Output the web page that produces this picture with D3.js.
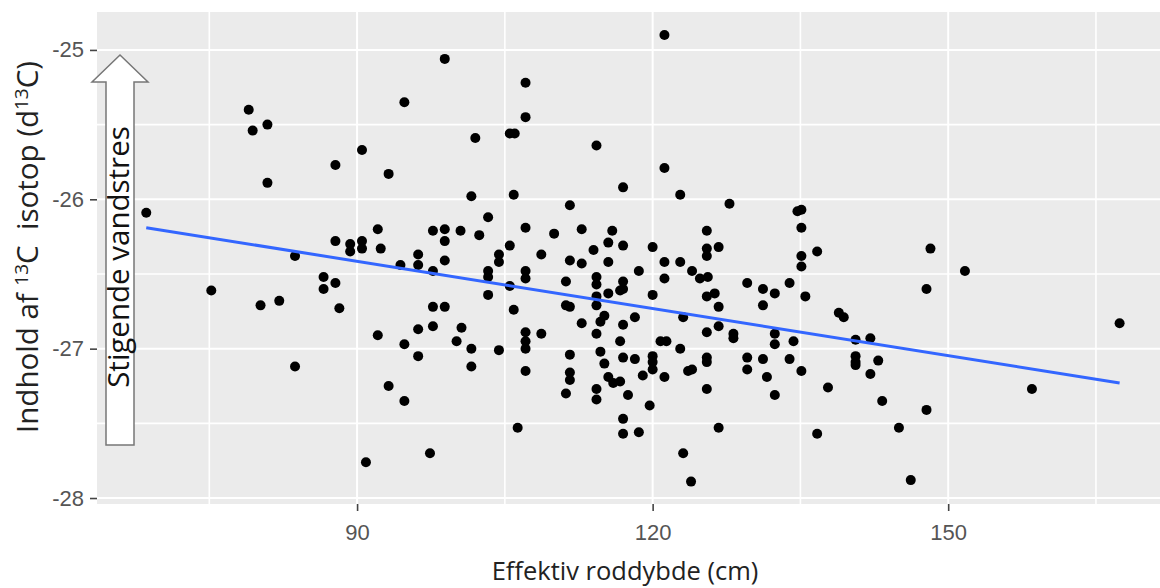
<!DOCTYPE html>
<html>
<head>
<meta charset="utf-8">
<script src="https://cdn.jsdelivr.net/npm/d3@7"></script>
<style>
  html, body { margin: 0; padding: 0; background: #fff; }
  svg { display: block; }
</style>
</head>
<body>
<script>
// Data: [effektiv roddybde (cm), d13C]
const samples = [
  [68.6,-26.09],[79.0,-25.40],[79.4,-25.54],[80.9,-25.50],[80.9,-25.89],[83.7,-26.38],[75.2,-26.61],[80.2,-26.71],[82.1,-26.68],[83.7,-27.12],
  [98.9,-25.06],[94.8,-25.35],[90.5,-25.67],[87.8,-25.77],[93.2,-25.83],[101.6,-25.98],[92.1,-26.20],[87.8,-26.28],[89.3,-26.30],[89.3,-26.35],
  [90.5,-26.28],[90.5,-26.33],[92.4,-26.33],[97.7,-26.21],[98.9,-26.20],[100.5,-26.21],[98.9,-26.28],[98.9,-26.41],[96.2,-26.37],[96.2,-26.44],
  [94.4,-26.44],[97.7,-26.48],[86.6,-26.52],[86.6,-26.60],[87.8,-26.56],[88.2,-26.73],[97.7,-26.72],[98.9,-26.72],[97.7,-26.85],[96.2,-26.87],
  [100.6,-26.86],[100.1,-26.95],[92.1,-26.91],[94.8,-26.97],[96.2,-27.05],[101.6,-27.00],[93.2,-27.25],[94.8,-27.35],[97.4,-27.70],[90.9,-27.76],
  [107.1,-25.22],[107.1,-25.45],[105.5,-25.56],[106.0,-25.56],[102.0,-25.59],[114.3,-25.64],[117.0,-25.92],[105.9,-25.97],[111.6,-26.04],[103.3,-26.12],
  [102.4,-26.24],[107.1,-26.19],[110.0,-26.23],[112.8,-26.20],[115.9,-26.21],[115.5,-26.29],[117.0,-26.31],[105.5,-26.31],[108.7,-26.37],[104.4,-26.37],
  [104.4,-26.42],[111.6,-26.41],[112.8,-26.43],[114.0,-26.34],[115.5,-26.42],[103.3,-26.48],[103.3,-26.52],[107.1,-26.48],[107.1,-26.53],[111.2,-26.55],
  [114.3,-26.52],[114.3,-26.57],[117.0,-26.55],[116.7,-26.61],[117.0,-26.60],[118.6,-26.48],[115.5,-26.63],[105.5,-26.58],[103.3,-26.64],[114.3,-26.65],
  [114.3,-26.71],[111.2,-26.71],[111.6,-26.72],[105.9,-26.74],[118.2,-26.79],[115.1,-26.78],[114.7,-26.82],[112.8,-26.83],[117.0,-26.84],[107.1,-26.89],
  [107.1,-26.95],[107.1,-27.00],[108.7,-26.90],[114.3,-26.90],[116.7,-26.95],[104.4,-27.01],[114.7,-27.02],[111.6,-27.04],[115.1,-27.10],[117.0,-27.06],
  [118.2,-27.07],[101.6,-27.12],[107.1,-27.15],[111.6,-27.16],[111.6,-27.21],[115.5,-27.19],[116.0,-27.23],[116.7,-27.22],[111.2,-27.30],[114.3,-27.27],
  [114.3,-27.34],[117.5,-27.31],[119.0,-27.18],[117.0,-27.47],[117.0,-27.57],[118.6,-27.56],[106.3,-27.53],
  [121.2,-24.90],[121.2,-25.79],[122.8,-25.97],[127.8,-26.03],[134.7,-26.08],[135.1,-26.07],[135.1,-26.19],[125.5,-26.21],[120.0,-26.32],[125.5,-26.33],
  [125.5,-26.38],[126.7,-26.32],[135.1,-26.38],[135.1,-26.45],[121.2,-26.42],[122.8,-26.42],[124.0,-26.48],[121.2,-26.53],[124.8,-26.53],[125.6,-26.52],
  [129.6,-26.56],[131.2,-26.60],[132.4,-26.63],[133.9,-26.56],[135.5,-26.65],[120.0,-26.64],[125.5,-26.65],[126.3,-26.63],[126.7,-26.72],[131.2,-26.71],
  [123.1,-26.79],[126.7,-26.85],[125.5,-26.89],[128.2,-26.90],[128.2,-26.93],[132.4,-26.90],[132.4,-26.97],[134.3,-26.95],[120.8,-26.95],[121.4,-26.95],
  [122.8,-27.00],[120.0,-27.05],[120.0,-27.09],[120.0,-27.14],[125.5,-27.06],[125.5,-27.09],[129.6,-27.06],[131.2,-27.07],[133.9,-27.07],[121.2,-27.19],
  [123.6,-27.15],[124.0,-27.14],[129.6,-27.14],[131.6,-27.19],[135.1,-27.15],[125.5,-27.27],[132.4,-27.31],[119.7,-27.38],[126.7,-27.53],[123.1,-27.70],
  [123.9,-27.89],
  [136.7,-26.35],[148.2,-26.33],[151.7,-26.48],[147.8,-26.60],[138.9,-26.76],[139.4,-26.79],[140.6,-26.94],[142.1,-26.93],[140.6,-27.05],[140.6,-27.09],
  [140.6,-27.11],[142.9,-27.08],[142.1,-27.17],[137.8,-27.26],[143.3,-27.35],[147.8,-27.41],[145.0,-27.53],[136.7,-27.57],[146.2,-27.88],
  [158.5,-27.27],[167.4,-26.83]
];

// Fitted line (lm) ends
const fitX = [68.6, 167.4];
const fitY = [-26.19, -27.23];

// Axis ticks
const xTicks = [90, 120, 150];
const xMinor = [75, 105, 135, 165];
const yTicks = [-25, -26, -27, -28];
const yMinor = [-25.5, -26.5, -27.5];

const config = { width: 1160, height: 588 };
const panel = { left: 97, top: 12, right: 1160, bottom: 504 };

const svg = d3.select("body")
  .append("svg")
  .attr("width", config.width)
  .attr("height", config.height);

const x = d3.scaleLinear().domain([63.6, 171.5]).range([panel.left, panel.right]);
const y = d3.scaleLinear().domain([-24.746, -28.04]).range([panel.top, panel.bottom]);

// Panel background
svg.append("rect")
  .attr("x", panel.left)
  .attr("y", panel.top)
  .attr("width", panel.right - panel.left)
  .attr("height", panel.bottom - panel.top)
  .attr("fill", "#ebebeb");

// Grid lines
const grid = svg.append("g").attr("stroke", "#fff");
grid.selectAll(".xminor").data(xMinor).enter().append("line")
  .attr("x1", d => x(d)).attr("x2", d => x(d))
  .attr("y1", panel.top).attr("y2", panel.bottom)
  .attr("stroke-width", 1.6);
grid.selectAll(".yminor").data(yMinor).enter().append("line")
  .attr("y1", d => y(d)).attr("y2", d => y(d))
  .attr("x1", panel.left).attr("x2", panel.right)
  .attr("stroke-width", 1.6);
grid.selectAll(".xmajor").data(xTicks).enter().append("line")
  .attr("x1", d => x(d)).attr("x2", d => x(d))
  .attr("y1", panel.top).attr("y2", panel.bottom)
  .attr("stroke-width", 2);
grid.selectAll(".ymajor").data(yTicks).enter().append("line")
  .attr("y1", d => y(d)).attr("y2", d => y(d))
  .attr("x1", panel.left).attr("x2", panel.right)
  .attr("stroke-width", 2);

// Axes
const xAxis = svg.append("g")
  .attr("transform", `translate(0,${panel.bottom})`)
  .call(d3.axisBottom(x).tickValues(xTicks).tickSize(7).tickPadding(6));
const yAxis = svg.append("g")
  .attr("transform", `translate(${panel.left},0)`)
  .call(d3.axisLeft(y).tickValues(yTicks).tickSize(7).tickPadding(6).tickFormat(d => String(d)));
[xAxis, yAxis].forEach(ax => {
  ax.select(".domain").remove();
  ax.selectAll(".tick line").attr("stroke", "#444").attr("stroke-width", 1.6);
  ax.selectAll(".tick text")
    .attr("fill", "#555")
    .attr("font-family", "Liberation Sans, Arial, sans-serif")
    .attr("font-size", 22);
});
xAxis.selectAll(".tick text").attr("dy", "1.05em");

// Points
svg.append("g")
  .selectAll("circle")
  .data(samples)
  .enter()
  .append("circle")
  .attr("cx", d => x(d[0]))
  .attr("cy", d => y(d[1]))
  .attr("r", 5)
  .attr("fill", "#000");

// Fitted line
svg.append("path")
  .datum(d3.zip(fitX, fitY))
  .attr("d", d3.line().x(d => x(d[0])).y(d => y(d[1])))
  .attr("fill", "none")
  .attr("stroke", "#3366ff")
  .attr("stroke-width", 3);

// Arrow annotation
const arrow = { cx: 120, shaft: 14, head: 28, tip: 55, base: 82, bottom: 445 };
svg.append("polygon")
  .attr("points", [
    [arrow.cx, arrow.tip],
    [arrow.cx + arrow.head, arrow.base],
    [arrow.cx + arrow.shaft, arrow.base],
    [arrow.cx + arrow.shaft, arrow.bottom],
    [arrow.cx - arrow.shaft, arrow.bottom],
    [arrow.cx - arrow.shaft, arrow.base],
    [arrow.cx - arrow.head, arrow.base]
  ].map(p => p.join(",")).join(" "))
  .attr("fill", "#fff")
  .attr("stroke", "#777")
  .attr("stroke-width", 1.5);

svg.append("text")
  .attr("transform", "translate(129,257) rotate(-90)")
  .attr("text-anchor", "middle")
  .attr("font-family", "Open Sans, sans-serif")
  .attr("font-size", 29.5)
  .attr("fill", "#111")
  .text("Stigende vandstres");

// Axis titles
svg.append("text")
  .attr("x", 625)
  .attr("y", 580)
  .attr("text-anchor", "middle")
  .attr("font-family", "Open Sans, sans-serif")
  .attr("font-size", 25.5)
  .attr("fill", "#222")
  .text("Effektiv roddybde (cm)");

const yTitle = svg.append("text")
  .attr("transform", "translate(38,247) rotate(-90)")
  .attr("text-anchor", "middle")
  .attr("font-family", "Open Sans, sans-serif")
  .attr("font-size", 29.5)
  .attr("fill", "#222")
  .attr("xml:space", "preserve");
yTitle.append("tspan").text("Indhold af ");
yTitle.append("tspan").attr("dy", -10).attr("font-size", 19).text("13");
yTitle.append("tspan").attr("dy", 10).text("C  isotop (d");
yTitle.append("tspan").attr("dy", -10).attr("font-size", 19).text("13");
yTitle.append("tspan").attr("dy", 10).text("C)");
</script>
</body>
</html>
